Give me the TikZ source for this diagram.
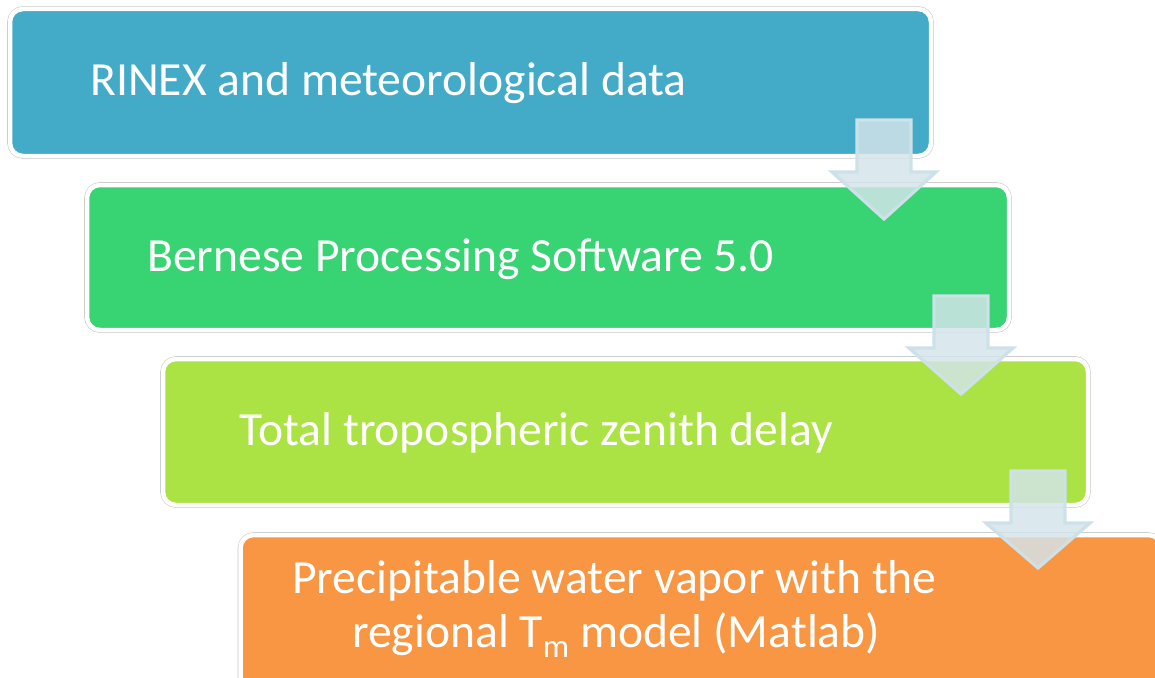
\documentclass[tikz,border=0pt]{standalone}
\usepackage{fontspec}
\setmainfont{Carlito}
\definecolor{cblue}{RGB}{67,170,199}
\definecolor{cgreen}{RGB}{56,211,115}
\definecolor{clime}{RGB}{170,227,67}
\definecolor{corange}{RGB}{248,150,67}
\definecolor{arrfill}{RGB}{212,228,234}
\definecolor{arrline}{RGB}{205,225,232}
\definecolor{rimgray}{RGB}{200,200,200}
\tikzset{
  stagebox/.style={rectangle, rounded corners=13pt, inner sep=0pt, outer sep=0pt,
    draw=white, line width=4.5pt,
    preaction={draw=rimgray, line width=5.6pt}},
  stagetext/.style={text=white, inner sep=0pt, anchor=base west,
    font=\fontsize{47.6}{56}\selectfont},
  blockarrow/.style={fill=arrfill, fill opacity=0.83, draw=arrline, line width=3.2pt, line join=miter}
}
\newcommand{\downarrowblock}[6]{% cx, top, neck, tip, shaft half, head half
  \draw[blockarrow] (#1-#5,#2) -- (#1+#5,#2) -- (#1+#5,#3) -- (#1+#6,#3) -- (#1,#4)
    -- (#1-#6,#3) -- (#1-#5,#3) -- cycle;}
\begin{document}
\begin{tikzpicture}[x=1pt,y=-1pt]
\useasboundingbox (0,0) rectangle (1155,677);
\clip (0,0) rectangle (1155,677);
\node[stagebox, fill=cblue, minimum width=921pt, minimum height=147pt] (b1) at (470.5,82.5) {};
\node[stagebox, fill=cgreen, minimum width=922pt, minimum height=145pt] (b2) at (548,257.5) {};
\node[stagebox, fill=clime, minimum width=925pt, minimum height=146pt] (b3) at (625.5,432) {};
\node[stagebox, fill=corange, minimum width=921pt, minimum height=165pt] (b4) at (701,617.5) {};
\node[stagetext] (t1) at (90,95) {RINEX and meteorological data};
\node[stagetext] (t2) at (147,271) {Bernese Processing Software 5.0};
\node[stagetext] (t3) at (239,445) {Total tropospheric zenith delay};
\node[stagetext] (t4) at (292,593) {Precipitable water vapor with the};
\node[stagetext] (t5) at (352,647) {regional T\raisebox{-10pt}{\fontsize{33}{33}\selectfont m} model (Matlab)};
\downarrowblock{884}{120}{172}{219}{27}{52}
\downarrowblock{961}{296}{348}{394}{27}{52}
\downarrowblock{1038}{471}{523}{568}{27}{52}
\end{tikzpicture}
\end{document}
